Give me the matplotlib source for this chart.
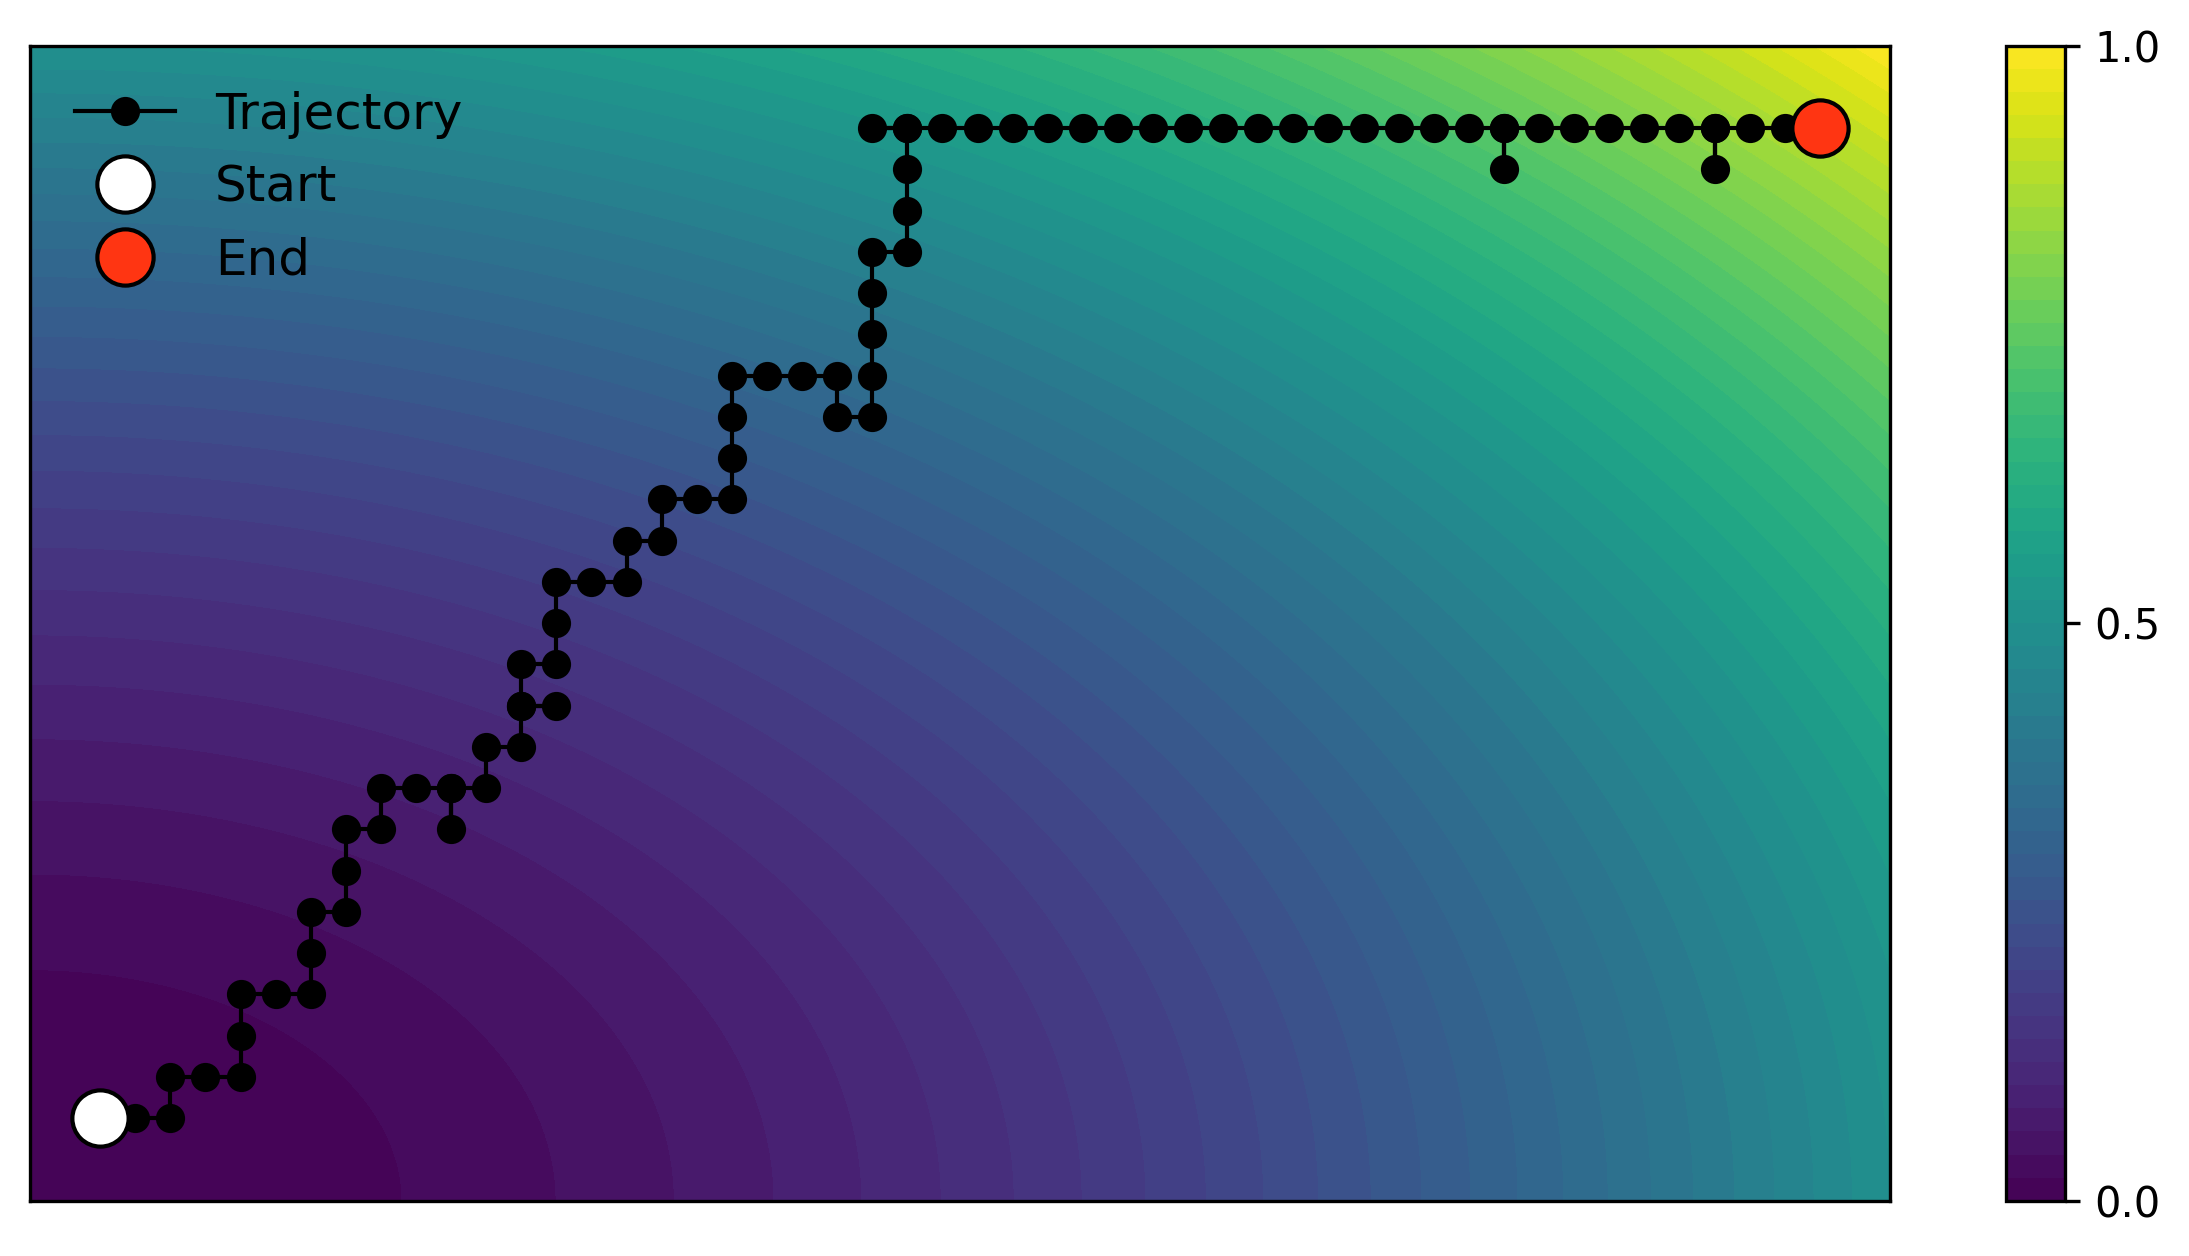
import numpy as np
import matplotlib
matplotlib.use("Agg")
import matplotlib.pyplot as plt

# grid cells visited by the agent (column, row)
traj_x = [0, 1, 2, 2, 3, 4, 4, 4, 5, 6, 6, 6, 7, 7, 7, 8, 8, 9, 10, 10, 10, 11,
          11, 12, 12, 13, 12, 12, 13, 13, 13, 14, 15, 15, 16, 16, 17, 18, 18, 18,
          18, 19, 20, 21, 21, 22, 22, 22, 22, 22, 23, 23, 23, 23, 22, 23,
          24, 25, 26, 27, 28, 29, 30, 31, 32, 33, 34, 35, 36, 37, 38, 39, 40, 40, 40,
          41, 42, 43, 44, 45, 46, 46, 46, 47, 48, 49]
traj_y = [0, 0, 0, 1, 1, 1, 2, 3, 3, 3, 4, 5, 5, 6, 7, 7, 8, 8, 8, 7, 8, 8,
          9, 9, 10, 10, 10, 11, 11, 12, 13, 13, 13, 14, 14, 15, 15, 15, 16, 17,
          18, 18, 18, 18, 17, 17, 18, 19, 20, 21, 21, 22, 23, 24, 24, 24,
          24, 24, 24, 24, 24, 24, 24, 24, 24, 24, 24, 24, 24, 24, 24, 24, 24, 23, 24,
          24, 24, 24, 24, 24, 24, 23, 24, 24, 24, 24]

x_lim = (-2, 51)
y_lim = (-2, 26)
cbar_ticks = [0.0, 0.5, 1.0]

# background value field, rises from bottom-left to top-right
gx = np.linspace(x_lim[0], x_lim[1], 400)
gy = np.linspace(y_lim[0], y_lim[1], 250)
X, Y = np.meshgrid(gx, gy)
Z = ((X - x_lim[0]) / (x_lim[1] - x_lim[0])) ** 2 + ((Y - y_lim[0]) / (y_lim[1] - y_lim[0])) ** 2
Z = Z / Z.max()

fig = plt.figure(figsize=(2189 / 300, 1256 / 300), dpi=300)
ax = fig.add_axes([0.0137, 0.0440, 0.8497, 0.9196])
cax = fig.add_axes([0.9164, 0.0440, 0.0269, 0.9196])

cf = ax.contourf(X, Y, Z, levels=np.linspace(0, 1, 51), cmap="viridis")
ax.plot(traj_x, traj_y, "-o", color="black", lw=1, ms=6, label="Trajectory")
ax.plot(traj_x[0], traj_y[0], "o", ms=13.5, mfc="white", mec="black", mew=1,
        label="Start")
ax.plot(traj_x[-1], traj_y[-1], "o", ms=13.5, mfc="#ff3512", mec="black", mew=1,
        label="End")

ax.set_xlim(x_lim)
ax.set_ylim(y_lim)
ax.set_xticks([])
ax.set_yticks([])
ax.legend(loc="upper left", frameon=False, fontsize=12)

cb = fig.colorbar(cf, cax=cax)
cb.set_ticks(cbar_ticks)
cb.ax.tick_params(labelsize=10)

fig.savefig("out.png", dpi=300)
